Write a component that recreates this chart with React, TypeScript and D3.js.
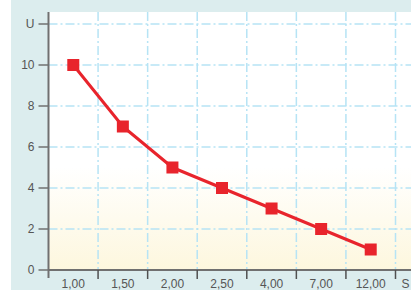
import React from 'react';
import * as d3 from 'd3';

// categories on the x axis (decimal comma as in the source)
const categories = ['1,00', '1,50', '2,00', '2,50', '4,00', '7,00', '12,00'];
const values = [10, 7, 5, 4, 3, 2, 1];
const yTicks = [0, 2, 4, 6, 8, 10];
const yUnit = 'U';
const xUnit = 'S';

const W = 411;
const H = 296;

export default function App() {
  const left = 48.5;
  const right = 395.5;
  const top = 12;
  const bottom = 270;

  const x = d3.scaleBand<string>().domain(categories).range([left, right]).padding(0);
  const y = d3.scaleLinear().domain([0, 12]).range([bottom, top + 12]);

  const line = d3
    .line<number>()
    .x((_, i) => (x(categories[i]) as number) + x.bandwidth() / 2)
    .y((d) => y(d));

  const bounds = categories.map((c) => (x(c) as number) + x.bandwidth());
  const gridYs = [...yTicks.filter((t) => t > 0), 12];

  return (
    <svg width={W} height={H} style={{ position: 'absolute', left: 0, top: 0 }} fontFamily="Liberation Sans, Arial, sans-serif">
      <defs>
        <linearGradient id="bg" x1="0" y1="0" x2="0" y2="1">
          <stop offset="0" stopColor="#ffffff" />
          <stop offset="0.6" stopColor="#ffffff" />
          <stop offset="1" stopColor="#fdf7de" />
        </linearGradient>
      </defs>
      <rect x={0} y={0} width={W} height={H} fill="#ffffff" />
      <rect x={11} y={0} width={W - 11} height={290} fill="#dcedee" />
      <rect x={left} y={top} width={W - left} height={bottom - top} fill="url(#bg)" />

      {/* grid */}
      {gridYs.map((t) => (
        <line key={'gy' + t} x1={left} x2={W} y1={y(t)} y2={y(t)} stroke="#b6e4f5" strokeWidth={1.5} strokeDasharray="9 3 2 3" />
      ))}
      {bounds.map((b, i) => (
        <line key={'gx' + i} x1={b} x2={b} y1={top} y2={bottom} stroke="#b6e4f5" strokeWidth={1.5} strokeDasharray="9 3 2 3" />
      ))}

      {/* y axis */}
      <line x1={left} x2={left} y1={top} y2={bottom + 8} stroke="#707070" strokeWidth={2} />
      {gridYs.map((t) => (
        <g key={'yt' + t}>
          <line x1={left - 10} x2={left} y1={y(t)} y2={y(t)} stroke="#707070" strokeWidth={1.5} />
          <text x={left - 14} y={y(t)} dy="0.36em" textAnchor="end" fontSize={12} fill="#555">
            {t === 12 ? yUnit : t}
          </text>
        </g>
      ))}
      <line x1={left - 10} x2={left} y1={y(0)} y2={y(0)} stroke="#707070" strokeWidth={1.5} />
      <text x={left - 14} y={y(0)} dy="0.36em" textAnchor="end" fontSize={12} fill="#555">0</text>

      {/* x axis */}
      <line x1={left} x2={W} y1={bottom} y2={bottom} stroke="#707070" strokeWidth={2} />
      {bounds.map((b, i) => (
        <line key={'xt' + i} x1={b} x2={b} y1={bottom} y2={bottom + 9} stroke="#505050" strokeWidth={1.5} />
      ))}
      {categories.map((c) => (
        <text key={c} x={(x(c) as number) + x.bandwidth() / 2} y={bottom + 17.5} textAnchor="middle" fontSize={12} fill="#555">
          {c}
        </text>
      ))}
      <text x={right + 6} y={bottom + 17.5} fontSize={12} fill="#555">{xUnit}</text>

      {/* series */}
      <path d={line(values) as string} fill="none" stroke="#e8242c" strokeWidth={3} strokeLinejoin="round" />
      {values.map((v, i) => (
        <rect
          key={i}
          x={(x(categories[i]) as number) + x.bandwidth() / 2 - 6}
          y={y(v) - 6}
          width={12}
          height={12}
          fill="#e8242c"
        />
      ))}
    </svg>
  );
}
